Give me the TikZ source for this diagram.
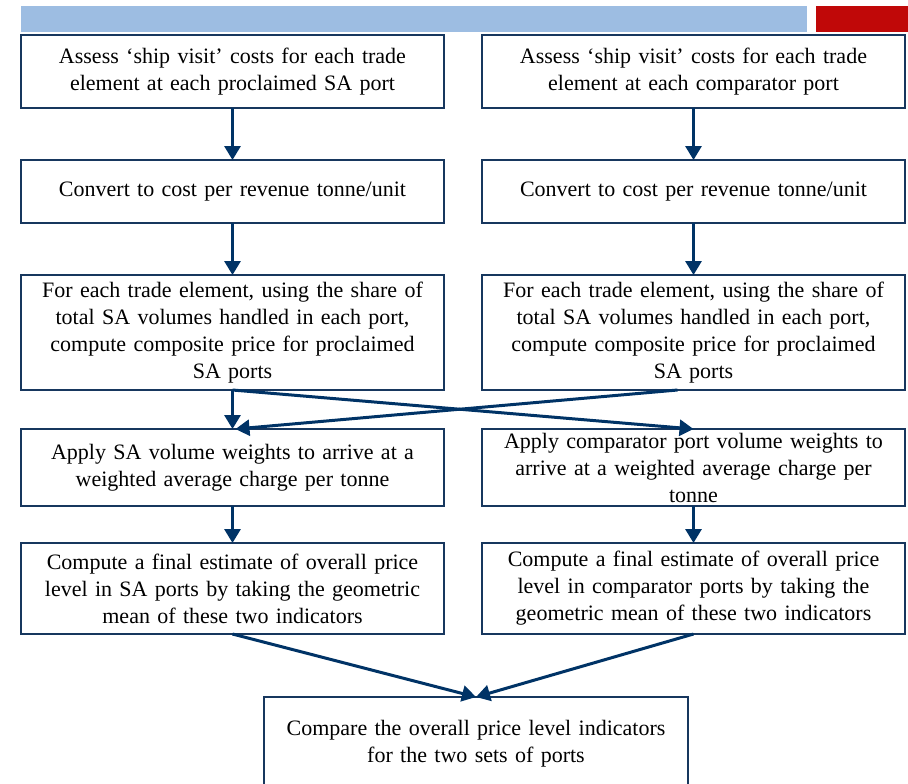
\documentclass[tikz,border=0pt]{standalone}
\usepackage{fontspec}
\setmainfont{Liberation Serif}
\usepackage{tikz}
\usetikzlibrary{positioning,arrows.meta,calc}
\definecolor{barblue}{RGB}{157,189,226}
\definecolor{barred}{RGB}{192,8,8}
\definecolor{boxblue}{RGB}{23,55,94}
\definecolor{arrowblue}{RGB}{0,51,102}
\begin{document}
\begin{tikzpicture}[x=1pt,y=-1pt,font=\fontsize{11}{13.5}\selectfont,>={Triangle[length=7pt,width=8pt]},
   box/.style={draw=boxblue,line width=0.9pt,align=center,text width=206pt,minimum width=211.5pt,inner sep=0pt,outer sep=0pt},
   flow/.style={->,draw=arrowblue,line width=1.5pt}]
  \useasboundingbox (0,0) rectangle (454,391.5);
  \clip (0,0) rectangle (454,391.5);
  \fill[barblue] (10.5,3) rectangle (403.5,16);
  \fill[barred] (408,3) rectangle (454,16);
  \node[box,minimum height=36.5pt,anchor=north west] (sa1) at (10.5,17.5) {Assess ‘ship visit’ costs for each trade\\ element at each proclaimed SA port};
  \node[box,minimum height=36.5pt,right=19pt of sa1] (cp1) {Assess ‘ship visit’ costs for each trade\\ element at each comparator port};
  \node[box,minimum height=31.5pt,below=26pt of sa1] (sa2) {Convert to cost per revenue tonne/unit};
  \node[box,minimum height=31.5pt,right=19pt of sa2] (cp2) {Convert to cost per revenue tonne/unit};
  \node[box,minimum height=57.5pt,below=26pt of sa2] (sa3) {For each trade element, using the share of\\ total SA volumes handled in each port,\\ compute composite price for proclaimed\\ SA ports};
  \node[box,minimum height=57.5pt,right=19pt of sa3] (cp3) {For each trade element, using the share of\\ total SA volumes handled in each port,\\ compute composite price for proclaimed\\ SA ports};
  \node[box,minimum height=38.5pt,below=19.5pt of sa3] (sa4) {Apply SA volume weights to arrive at a\\ weighted average charge per tonne};
  \node[box,minimum height=38.5pt,right=19pt of sa4] (cp4) {Apply comparator port volume weights to\\ arrive at a weighted average charge per\\ tonne};
  \node[box,minimum height=45.5pt,below=18.5pt of sa4] (sa5) {Compute a final estimate of overall price\\ level in SA ports by taking the geometric\\ mean of these two indicators};
  \node[box,minimum height=45.5pt,right=19pt of sa5] (cp5) {Compute a final estimate of overall price\\ level in comparator ports by taking the\\ geometric mean of these two indicators};
  \node[box,minimum width=212pt,minimum height=46.5pt,anchor=north] (cmp) at (238,348.5) {Compare the overall price level indicators\\ for the two sets of ports};
  \draw[flow] (sa1)--(sa2); \draw[flow] (sa2)--(sa3); \draw[flow] (sa3)--(sa4); \draw[flow] (sa4)--(sa5);
  \draw[flow] (cp1)--(cp2); \draw[flow] (cp2)--(cp3); \draw[flow] (cp4)--(cp5);
  \draw[flow] (sa3.south)--(cp4.north);
  \draw[flow] ($(cp3.south)+(-8pt,0)$)--($(sa4.north)+(1.5pt,0)$);
  \draw[flow] (sa5.south)--(cmp.north); \draw[flow] (cp5.south)--(cmp.north);
\end{tikzpicture}
\end{document}
